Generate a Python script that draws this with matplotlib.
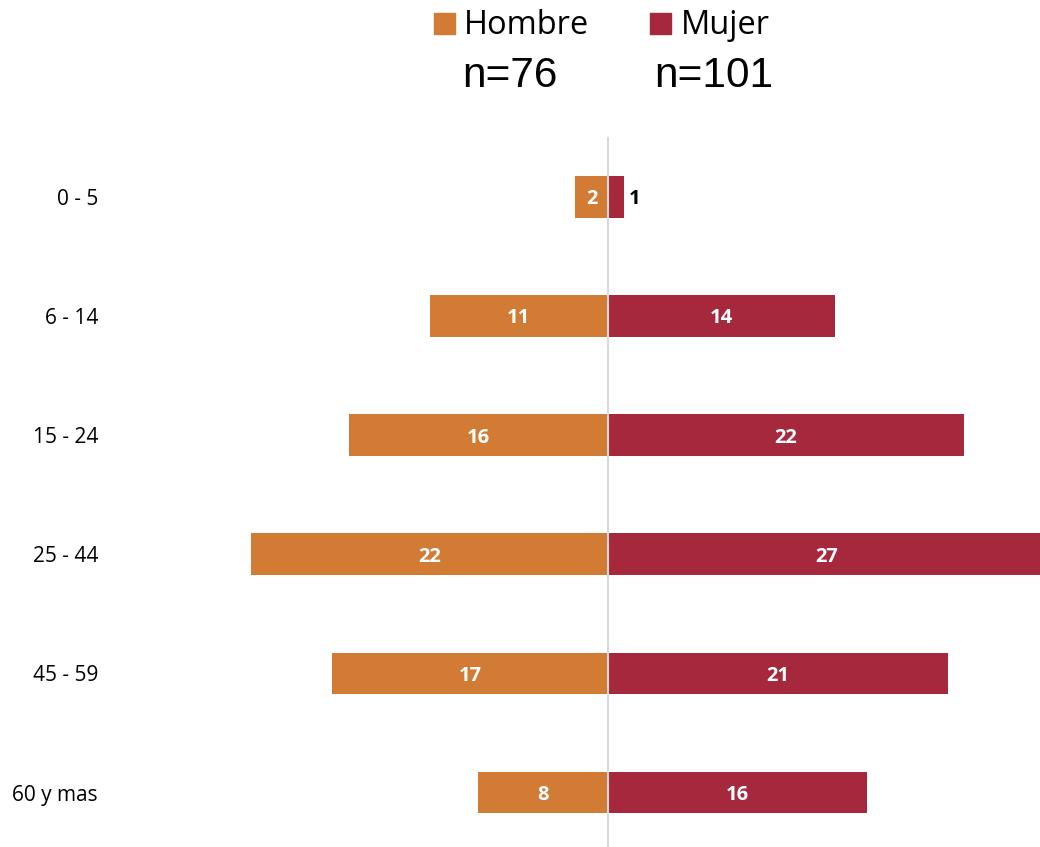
import matplotlib.pyplot as plt
from matplotlib.patches import Rectangle

grupos = ["0 - 5", "6 - 14", "15 - 24", "25 - 44", "45 - 59", "60 y mas"]
hombre = [2, 11, 16, 22, 17, 8]
mujer = [1, 14, 22, 27, 21, 16]
n_hombre = 76
n_mujer = 101

c_h = "#D27B35"
c_m = "#A5283D"

fig = plt.figure(figsize=(10.4, 8.47), dpi=100)
ax = fig.add_axes([0.1077, -0.006, 0.8923, 0.844])

y = list(range(len(grupos)))
ax.barh(y, [-v for v in hombre], height=0.35, color=c_h)
ax.barh(y, mujer, height=0.35, color=c_m)
ax.axvline(0, color="#D9D9D9", lw=1.5, zorder=3)

for i, (h, m) in enumerate(zip(hombre, mujer)):
    ax.text(-h / 2, i, str(h), ha="center", va="center_baseline", color="white",
            fontsize=14.5, fontweight="bold", family="Open Sans")
    if m < 2:
        ax.text(m + 0.3, i, str(m), ha="left", va="center_baseline", color="black",
                fontsize=14.5, fontweight="bold", family="Open Sans")
    else:
        ax.text(m / 2, i, str(m), ha="center", va="center_baseline", color="white",
                fontsize=14.5, fontweight="bold", family="Open Sans")

ax.set_xlim(-30.6, 26.67)
ax.set_ylim(5.5, -0.5)
ax.set_yticks(y)
ax.set_yticklabels(grupos, family="Open Sans", fontsize=15)
ax.set_xticks([])
ax.tick_params(axis="y", length=0, pad=10)
for s in ax.spines.values():
    s.set_visible(False)

# leyenda
W, H = 1040, 847
fig.patches.append(Rectangle((434 / W, 1 - 34 / H), 21 / W, 21 / H,
                             transform=fig.transFigure, color=c_h))
fig.patches.append(Rectangle((650 / W, 1 - 34 / H), 21 / W, 21 / H,
                             transform=fig.transFigure, color=c_m))
fig.text(464 / W, 1 - 34 / H, "Hombre", fontsize=23.5, family="Open Sans",
         va="baseline")
fig.text(681 / W, 1 - 34 / H, "Mujer", fontsize=23.5, family="Open Sans",
         va="baseline")
fig.text(462 / W, 1 - 87 / H, "n=%d" % n_hombre, fontsize=30.5,
         family="Liberation Sans", va="baseline")
fig.text(654 / W, 1 - 87 / H, "n=%d" % n_mujer, fontsize=30.5,
         family="Liberation Sans", va="baseline")

fig.savefig("out.png", dpi=100)
